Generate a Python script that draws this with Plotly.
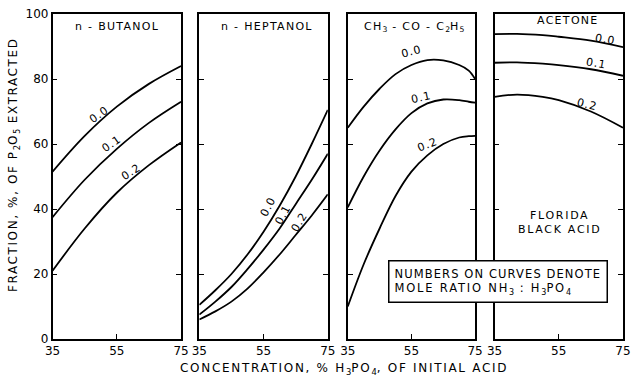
import plotly.graph_objects as go

# ---------------- data ----------------
ratio_labels = ["0.0", "0.1", "0.2"]

butanol_x = [35, 45, 55, 65, 75]
butanol_00 = [51.5, 62.5, 71.5, 78.5, 84.0]
butanol_01 = [37.5, 49.0, 58.5, 66.5, 73.0]
butanol_02 = [21.0, 34.0, 45.0, 53.5, 60.5]

heptanol_x = [35, 40, 45, 50, 55, 60, 65, 70, 75]
heptanol_00 = [10.5, 15.0, 20.0, 26.0, 33.0, 41.0, 50.0, 60.0, 70.5]
heptanol_01 = [7.5, 11.5, 16.0, 21.5, 27.5, 34.0, 41.5, 49.0, 57.0]
heptanol_02 = [6.0, 8.5, 11.5, 15.5, 20.5, 26.0, 32.0, 38.0, 44.5]

mek_x = [35, 40, 45, 50, 55, 60, 65, 70, 73, 75]
mek_00 = [65.0, 71.5, 77.0, 81.5, 84.3, 85.8, 85.7, 84.3, 82.6, 80.0]
mek_01 = [40.5, 50.0, 58.0, 64.5, 69.5, 72.5, 73.7, 73.5, 73.0, 72.7]
mek_02 = [10.0, 23.0, 34.0, 44.0, 51.5, 56.5, 60.0, 62.0, 62.4, 62.5]

acetone_x = [35, 42, 50, 55, 65, 75]
acetone_00 = [93.8, 93.9, 93.5, 93.0, 91.8, 89.8]
acetone_01 = [85.0, 85.1, 84.7, 84.3, 83.0, 81.0]
acetone_02 = [74.5, 75.2, 74.5, 73.5, 70.0, 65.0]

x_ticks = [35, 55, 75]
y_ticks = [0, 20, 40, 60, 80, 100]

panels = [
    (butanol_x, [butanol_00, butanol_01, butanol_02]),
    (heptanol_x, [heptanol_00, heptanol_01, heptanol_02]),
    (mek_x, [mek_00, mek_01, mek_02]),
    (acetone_x, [acetone_00, acetone_01, acetone_02]),
]

# curve-label placement (x, y, angle) per panel, per ratio
label_pos = [
    [(49.6, 69.0, -35), (53.5, 60.3, -35), (59.7, 51.4, -33)],
    [(56.5, 40.7, -62), (61.2, 38.2, -62), (66.3, 36.1, -58)],
    [(55.1, 88.6, -15), (58.2, 74.2, -12), (60.2, 60.0, -22)],
    [(69.5, 92.2, 10), (66.7, 84.8, 10), (63.8, 72.3, 14)],
]

domains = [[0.001, 0.226], [0.258, 0.483], [0.518, 0.741], [0.775, 1.0]]

FONT = "DejaVu Sans"


def spaced(t, px):
    return '<span style="letter-spacing:%spx">%s</span>' % (px, t)


def chem(parts, px):
    # parts: list of (text, is_sub)
    out = ""
    for t, sub in parts:
        out += ("<sub>%s</sub>" % t) if sub else spaced(t, px)
    return out


panel_titles = [
    spaced("n - BUTANOL", 1.3),
    spaced("n - HEPTANOL", 1.3),
    chem([("CH", 0), ("3", 1), (" - CO - C", 0), ("2", 1), ("H", 0), ("5", 1)], 1.3),
    spaced("ACETONE", 1.3),
]

fig = go.Figure()
annotations = []

for i, (xs, curves) in enumerate(panels):
    n = "" if i == 0 else str(i + 1)
    for ys in curves:
        fig.add_trace(go.Scatter(
            x=xs, y=ys, mode="lines", line=dict(color="black", width=1.8, shape="spline", smoothing=1.0),
            xaxis="x" + n, yaxis="y" + n, showlegend=False, hoverinfo="skip"))
    fig.layout["xaxis" + n] = dict(
        domain=domains[i], range=[35, 75], tickvals=x_ticks, ticks="inside", ticklen=5,
        tickwidth=1.2, tickcolor="black", showline=True, linecolor="black", linewidth=1.5,
        mirror=True, showgrid=False, zeroline=False, anchor="y" + n,
        tickfont=dict(family=FONT, size=12, color="black"))
    fig.layout["yaxis" + n] = dict(
        domain=[0, 1], range=[0, 100], tickvals=y_ticks, ticks="inside", ticklen=5,
        tickwidth=1.2, tickcolor="black", showline=True, linecolor="black", linewidth=1.5,
        mirror="ticks", showgrid=False, zeroline=False, anchor="x" + n,
        showticklabels=(i == 0), tickfont=dict(family=FONT, size=12, color="black"))
    for j, (lx, ly, ang) in enumerate(label_pos[i]):
        annotations.append(dict(x=lx, y=ly, xref="x" + n, yref="y" + n, text=spaced(ratio_labels[j], 1),
                                showarrow=False, textangle=ang, xanchor="center", yanchor="middle",
                                font=dict(family=FONT, size=11, color="black")))

# panel titles
title_pos = [(55, 96.3), (56, 96.3), (56, 96.0), (58, 98.0)]
for i, t in enumerate(panel_titles):
    n = "" if i == 0 else str(i + 1)
    annotations.append(dict(x=title_pos[i][0], y=title_pos[i][1], xref="x" + n, yref="y" + n,
                            text=t, xanchor="center", yanchor="middle",
                            showarrow=False, font=dict(family=FONT, size=11, color="black")))

annotations.append(dict(x=55.3, y=35.8, xref="x4", yref="y4",
                        text=spaced("FLORIDA", 1.7) + "<br>" + spaced("BLACK ACID", 1.7),
                        showarrow=False, align="center", xanchor="center", yanchor="middle",
                        font=dict(family=FONT, size=11, color="black")))

annotations.append(dict(x=0.781, y=0.176, xref="paper", yref="paper",
                        text=spaced("NUMBERS ON CURVES DENOTE", 1.1) + "<br>" +
                        chem([("MOLE RATIO NH", 0), ("3", 1), (" : H", 0), ("3", 1), ("PO", 0), ("4", 1)], 1.8),
                        showarrow=False, align="left", bgcolor="white", bordercolor="black",
                        borderwidth=1.5, borderpad=5, xanchor="center", yanchor="middle",
                        font=dict(family=FONT, size=11.5, color="black")))

annotations.append(dict(x=(14 - 52) / 579, y=0.537, xref="paper", yref="paper",
                        text=chem([("FRACTION, %, OF P", 0), ("2", 1), ("O", 0), ("5", 1), (" EXTRACTED", 0)], 1.6),
                        showarrow=False, textangle=-90, xanchor="center", yanchor="middle",
                        font=dict(family=FONT, size=12, color="black")))
annotations.append(dict(x=0.512, y=-0.091, xref="paper", yref="paper",
                        text=chem([("CONCENTRATION, % H", 0), ("3", 1), ("PO", 0), ("4", 1), (", OF INITIAL ACID", 0)], 1.7),
                        showarrow=False, xanchor="center", yanchor="middle",
                        font=dict(family=FONT, size=12, color="black")))

fig.update_layout(
    width=638, height=379, margin=dict(l=52, r=7, t=13, b=40),
    paper_bgcolor="white", plot_bgcolor="white", annotations=annotations)

fig.write_html("out.html")
